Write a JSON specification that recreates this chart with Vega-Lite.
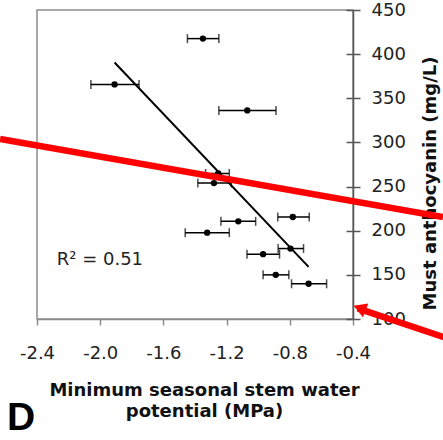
{
  "$schema": "https://vega.github.io/schema/vega-lite/v6.json",
  "width": 316,
  "height": 309,
  "autosize": {"type": "none"},
  "padding": {"left": 37, "top": 10, "right": 90, "bottom": 121},
  "background": "white",
  "config": {
    "view": {"stroke": "#8c8c8c", "strokeWidth": 1.5},
    "font": "DejaVu Sans"
  },
  "title": {
    "text": "D",
    "orient": "bottom",
    "anchor": "start",
    "frame": "group",
    "font": "Liberation Sans",
    "fontSize": 39,
    "fontWeight": "bold",
    "color": "black",
    "dx": -30,
    "offset": -21
  },
  "datasets": {
    "points": [
      {"x": -1.35, "y": 417.6, "lo": -1.448, "hi": -1.249},
      {"x": -1.909, "y": 365.7, "lo": -2.059, "hi": -1.754},
      {"x": -1.069, "y": 336.3, "lo": -1.249, "hi": -0.887},
      {"x": -1.253, "y": 264.8, "lo": -1.333, "hi": -1.183},
      {"x": -1.28, "y": 254.0, "lo": -1.382, "hi": -1.17},
      {"x": -0.781, "y": 215.5, "lo": -0.876, "hi": -0.677},
      {"x": -1.126, "y": 210.6, "lo": -1.236, "hi": -1.016},
      {"x": -1.323, "y": 197.8, "lo": -1.462, "hi": -1.183},
      {"x": -0.796, "y": 179.8, "lo": -0.874, "hi": -0.713},
      {"x": -0.969, "y": 173.4, "lo": -1.071, "hi": -0.865},
      {"x": -0.889, "y": 150.0, "lo": -0.969, "hi": -0.806},
      {"x": -0.681, "y": 139.9, "lo": -0.789, "hi": -0.567}
    ],
    "fit": [
      {"x": -1.909, "y": 390.5},
      {"x": -0.681, "y": 159.1}
    ],
    "note": [
      {"x": -2.275, "y": 166.8, "text": "R² = 0.51"}
    ],
    "red": [
      {"x": -2.634, "y": 303.9, "x2": 0.17, "y2": 215.6},
      {"x": 0.277, "y": 73.3, "x2": -0.37, "y2": 112.0}
    ],
    "arrowhead": [
      {"x": -0.358, "y": 112.3}
    ]
  },
  "resolve": {"axis": {"y": "independent"}},
  "layer": [
    {
      "data": {"name": "points"},
      "mark": {"type": "rule", "color": "black", "strokeWidth": 1.5},
      "encoding": {
        "x": {
          "field": "lo",
          "type": "quantitative",
          "scale": {"domain": [-2.4, -0.4], "nice": false, "zero": false},
          "axis": {
            "values": [-2.4, -2.0, -1.6, -1.2, -0.8, -0.4],
            "labelExpr": "replace(format(datum.value, '.1f'), '\u2212', '-')",
            "grid": false,
            "domainColor": "#8c8c8c",
            "domainWidth": 1.5,
            "tickColor": "#8c8c8c",
            "tickWidth": 1.5,
            "tickSize": 6,
            "labelFont": "DejaVu Sans",
            "labelFontSize": 18,
            "labelColor": "#222222",
            "labelPadding": 19,
            "labelFlush": false,
            "title": ["Minimum seasonal stem water", "potential (MPa)"],
            "titleFont": "DejaVu Sans",
            "titleFontSize": 18,
            "titleFontWeight": "bold",
            "titleColor": "#111111",
            "titleLineHeight": 21,
            "titlePadding": 19,
            "titleX": 167
          }
        },
        "x2": {"field": "hi"},
        "y": {
          "field": "y",
          "type": "quantitative",
          "scale": {"domain": [100, 450], "nice": false, "zero": false},
          "axis": {
            "orient": "right",
            "values": [100, 150, 200, 250, 300, 350, 400, 450],
            "grid": false,
            "domainColor": "#555555",
            "domainWidth": 1.5,
            "tickColor": "#555555",
            "tickWidth": 1.5,
            "tickSize": 7,
            "labelFont": "DejaVu Sans",
            "labelFontSize": 18,
            "labelColor": "#222222",
            "labelPadding": 11,
            "labelFlush": false,
            "title": "Must anthocyanin (mg/L)",
            "titleFont": "DejaVu Sans",
            "titleFontSize": 18,
            "titleFontWeight": "bold",
            "titleColor": "#111111",
            "titleAngle": 270,
            "titleBaseline": "top",
            "titlePadding": 16,
            "titleY": 173
          }
        }
      }
    },
    {
      "data": {"name": "points"},
      "mark": {"type": "rule", "opacity": 0},
      "encoding": {
        "y": {
          "field": "y",
          "type": "quantitative",
          "axis": {
            "orient": "right",
            "values": [100, 150, 200, 250, 300, 350, 400, 450],
            "grid": false,
            "domain": false,
            "labels": false,
            "tickColor": "#555555",
            "tickWidth": 1.5,
            "tickSize": -7,
            "title": null
          }
        }
      }
    },
    {
      "data": {"name": "points"},
      "mark": {"type": "tick", "orient": "vertical", "color": "black", "size": 9, "thickness": 1.5},
      "encoding": {
        "x": {"field": "lo", "type": "quantitative"},
        "y": {"field": "y", "type": "quantitative", "axis": null}
      }
    },
    {
      "data": {"name": "points"},
      "mark": {"type": "tick", "orient": "vertical", "color": "black", "size": 9, "thickness": 1.5},
      "encoding": {
        "x": {"field": "hi", "type": "quantitative"},
        "y": {"field": "y", "type": "quantitative", "axis": null}
      }
    },
    {
      "data": {"name": "points"},
      "mark": {"type": "point", "filled": true, "color": "black", "size": 40, "opacity": 1},
      "encoding": {
        "x": {"field": "x", "type": "quantitative"},
        "y": {"field": "y", "type": "quantitative", "axis": null}
      }
    },
    {
      "data": {"name": "fit"},
      "mark": {"type": "line", "color": "black", "strokeWidth": 2},
      "encoding": {
        "x": {"field": "x", "type": "quantitative"},
        "y": {"field": "y", "type": "quantitative", "axis": null}
      }
    },
    {
      "data": {"name": "note"},
      "mark": {"type": "text", "align": "left", "baseline": "middle", "font": "DejaVu Sans", "fontSize": 18, "color": "#222222"},
      "encoding": {
        "x": {"field": "x", "type": "quantitative"},
        "y": {"field": "y", "type": "quantitative", "axis": null},
        "text": {"field": "text"}
      }
    },
    {
      "data": {"name": "red"},
      "mark": {"type": "rule", "color": "#ff0000", "strokeWidth": 6.5},
      "encoding": {
        "x": {"field": "x", "type": "quantitative"},
        "x2": {"field": "x2"},
        "y": {"field": "y", "type": "quantitative", "axis": null},
        "y2": {"field": "y2"}
      }
    },
    {
      "data": {"name": "arrowhead"},
      "mark": {"type": "point", "shape": "triangle-up", "filled": true, "color": "#ff0000", "size": 220, "angle": 291, "opacity": 1},
      "encoding": {
        "x": {"field": "x", "type": "quantitative"},
        "y": {"field": "y", "type": "quantitative", "axis": null}
      }
    }
  ]
}
